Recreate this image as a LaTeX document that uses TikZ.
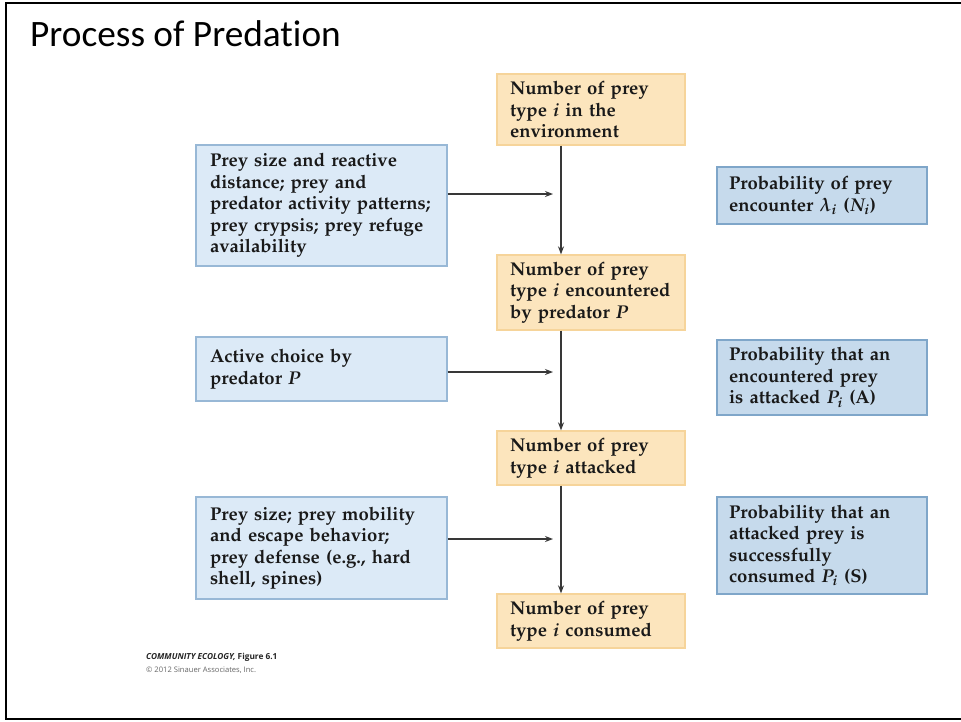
\documentclass[tikz,border=0pt]{standalone}
\usepackage{fontspec}
\newfontfamily\titlefont[Ligatures={NoCommon}]{Carlito}
\newfontfamily\footfont{Open Sans}
\usepackage[T1]{fontenc}
\usepackage{mathpazo}
\usetikzlibrary{arrows.meta}
\definecolor{ofill}{HTML}{FCE5BD}
\definecolor{odraw}{HTML}{F6D49A}
\definecolor{lfill}{HTML}{DCEAF7}
\definecolor{ldraw}{HTML}{98B8D6}
\definecolor{rfill}{HTML}{C6DAEC}
\definecolor{rdraw}{HTML}{7FA6C9}
\definecolor{arr}{HTML}{383838}
\tikzset{
  bodytext/.style={font=\fontsize{18.5}{21.5}\selectfont\bfseries\boldmath, text=black!90, align=left, inner ysep=2pt},
  obox/.style={bodytext, rectangle, draw=odraw, fill=ofill, line width=1.3pt, minimum width=188pt, text width=162pt, inner xsep=13pt},
  lbox/.style={bodytext, rectangle, draw=ldraw, fill=lfill, line width=1.3pt, minimum width=251pt, text width=223pt, inner xsep=14pt},
  rbox/.style={bodytext, rectangle, draw=rdraw, fill=rfill, line width=1.3pt, minimum width=210pt, text width=186pt, inner xsep=12pt},
  flow/.style={draw=arr, line width=1.3pt, -{Stealth[length=8pt,width=6pt]}}
}
\begin{document}
\begin{tikzpicture}[x=1pt,y=-1pt]
\useasboundingbox (0,0) rectangle (961,721);
\fill[white] (0,0) rectangle (961,721);
% frame
\draw[line width=2.5pt, black] (965,3) -- (6,3) -- (6,719) -- (965,719);
% title
\node[anchor=west, font=\titlefont\fontsize{37.3}{41}\selectfont, inner sep=0pt] (title) at (30,34) {Process of Predation};
% central column
\node[obox, minimum height=71pt] (o1) at (591,109.5) {Number of prey\\type \textit{i} in the\\environment};
\node[obox, minimum height=75pt] (o2) at (591,292.5) {Number of prey\\type \textit{i} encountered\\by predator \textit{P}};
\node[obox, minimum height=54pt] (o3) at (591,458) {Number of prey\\type \textit{i} attacked};
\node[obox, minimum height=54pt] (o4) at (591,621) {Number of prey\\type \textit{i} consumed};
% left factors
\node[lbox, minimum height=121pt] (l1) at (321.5,205.5) {Prey size and reactive\\distance; prey and\\predator activity patterns;\\prey crypsis; prey refuge\\availability};
\node[lbox, minimum height=64pt] (l2) at (321.5,369) {Active choice by\\predator \textit{P}};
\node[lbox, minimum height=102pt] (l3) at (321.5,548) {Prey size; prey mobility\\and escape behavior;\\prey defense (e.g., hard\\shell, spines)};
% right probabilities
\node[rbox, minimum height=57pt] (r1) at (822,195.5) {Probability of prey\\encounter $\lambda_i$ ($N_i$)};
\node[rbox, minimum height=75pt] (r2) at (822,377.5) {Probability that an\\encountered prey\\is attacked $P_i$ (A)};
\node[rbox, minimum height=97pt] (r3) at (822,545.5) {Probability that an\\attacked prey is\\successfully\\consumed $P_i$ (S)};
% connectors
\coordinate (vx) at (561,0);
\draw[flow] (o1.south -| vx) -- (o2.north -| vx);
\draw[flow] (o2.south -| vx) -- (o3.north -| vx);
\draw[flow] (o3.south -| vx) -- (o4.north -| vx);
\coordinate (a1) at (553,194);
\coordinate (a2) at (553,372);
\coordinate (a3) at (553,539);
\draw[flow] (l1.east |- a1) -- (a1);
\draw[flow] (l2.east |- a2) -- (a2);
\draw[flow] (l3.east |- a3) -- (a3);
% footer
\node[anchor=west, inner sep=0pt, font=\footfont\fontsize{8.3}{10}\selectfont\bfseries, text=black!85] (foot) at (146,657) {\textit{COMMUNITY ECOLOGY,} Figure 6.1};
\node[anchor=west, inner sep=0pt, font=\footfont\fontsize{7.6}{9}\selectfont, text=black!60] (copy) at (146,670) {© 2012 Sinauer Associates, Inc.};
\end{tikzpicture}
\end{document}
